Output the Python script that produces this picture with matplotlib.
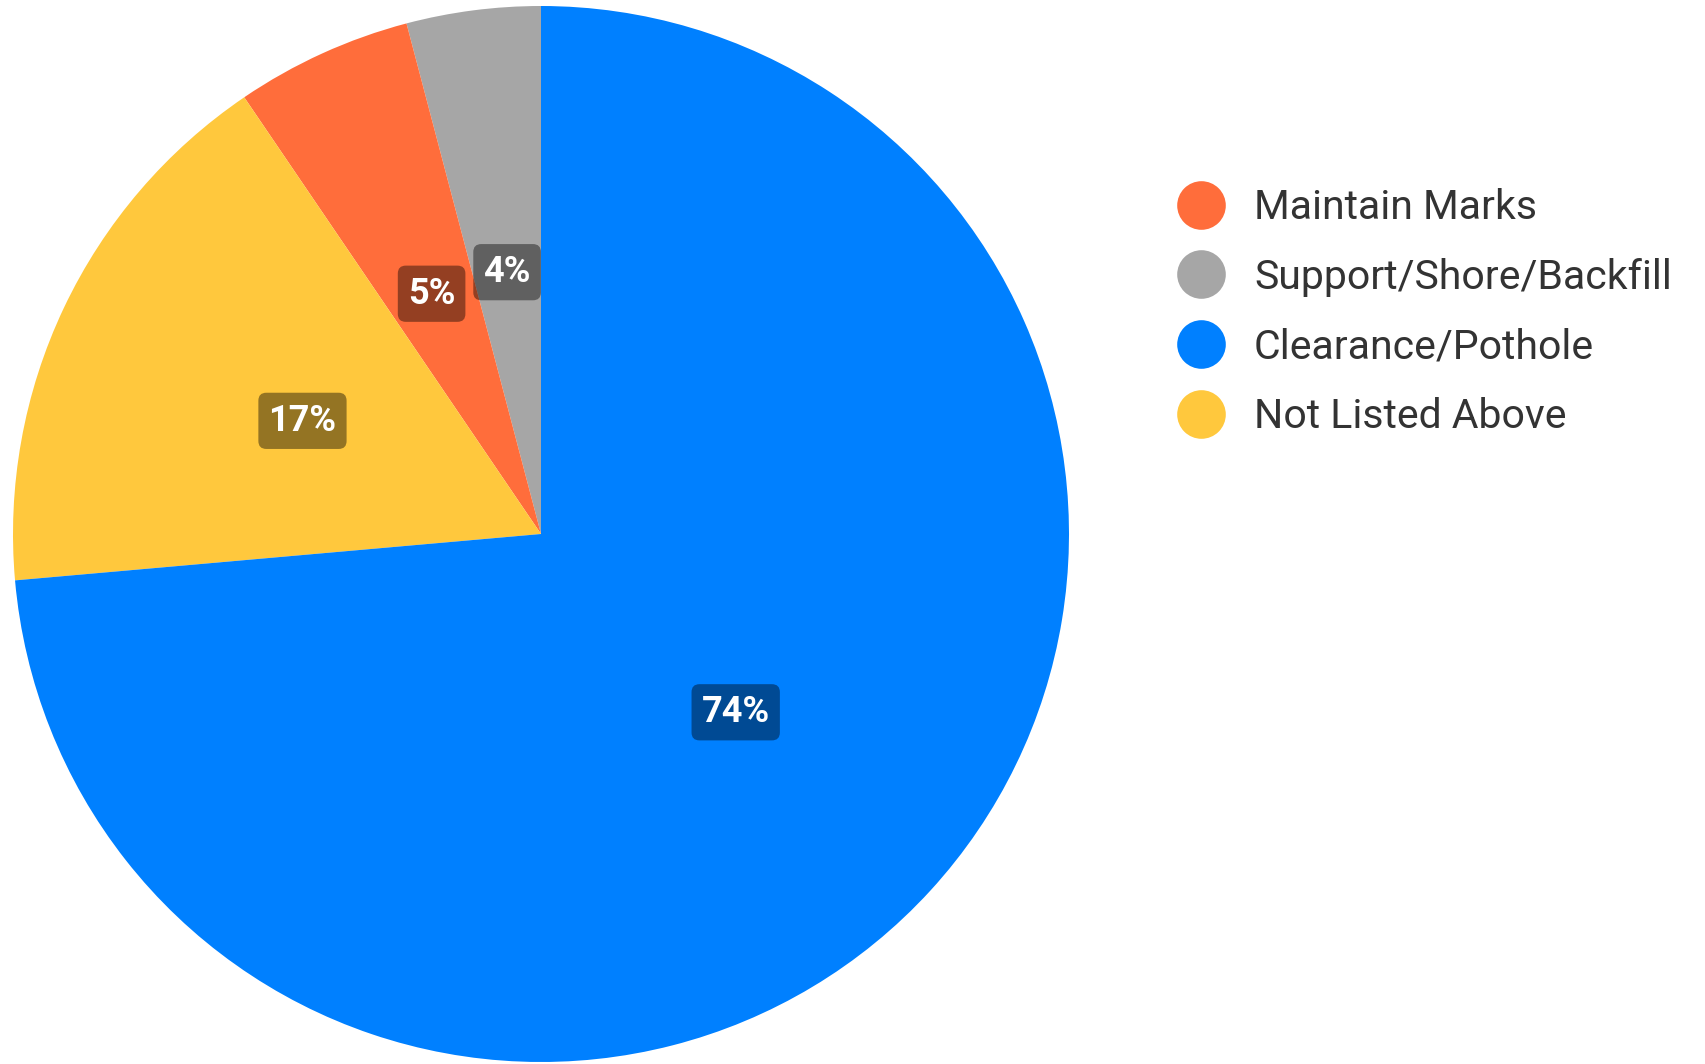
import matplotlib.pyplot as plt
from matplotlib.lines import Line2D

# slices, counter-clockwise from 12 o'clock
labels = ["Support/Shore/Backfill", "Maintain Marks", "Not Listed Above", "Clearance/Pothole"]
values = [4.1, 5.4, 16.9, 73.6]
colors = ["#A6A6A6", "#FF6D3B", "#FFC83D", "#0080FF"]
legend_order = ["Maintain Marks", "Support/Shore/Backfill", "Clearance/Pothole", "Not Listed Above"]

plt.rcParams['font.family'] = ['Roboto', 'DejaVu Sans']

W, H = 1706, 1064
fig = plt.figure(figsize=(W / 100, H / 100), dpi=100)
cx, cy, r = 541, 534, 528
ax = fig.add_axes([(cx - r) / W, (H - cy - r) / H, 2 * r / W, 2 * r / H])

wedges, texts, autotexts = ax.pie(values, colors=colors, startangle=90, counterclock=True,
                                  radius=1, autopct=lambda p: f"{p:.0f}%", pctdistance=0.5,
                                  wedgeprops=dict(linewidth=0))
for t in autotexts:
    t.set_color("white")
    t.set_fontsize(26)
    t.set_fontweight("bold")
    t.set_bbox(dict(boxstyle="round,pad=0.28,rounding_size=0.22", fc="black", ec="none", alpha=0.42))
ax.set_xlim(-1, 1)
ax.set_ylim(-1, 1)
ax.set_aspect("equal")
ax.axis("off")

handles = [Line2D([], [], marker="o", linestyle="none", markersize=35,
                  markerfacecolor=colors[labels.index(n)], markeredgewidth=0)
           for n in legend_order]
fig.legend(handles, legend_order, loc="upper left", bbox_to_anchor=(1177 / W, 1 - 188 / H),
           frameon=False, fontsize=29.5, labelcolor="#333333", handlelength=1.18,
           handletextpad=0.7, labelspacing=0.75, borderaxespad=0, borderpad=0)

fig.savefig("out.png", dpi=100)
